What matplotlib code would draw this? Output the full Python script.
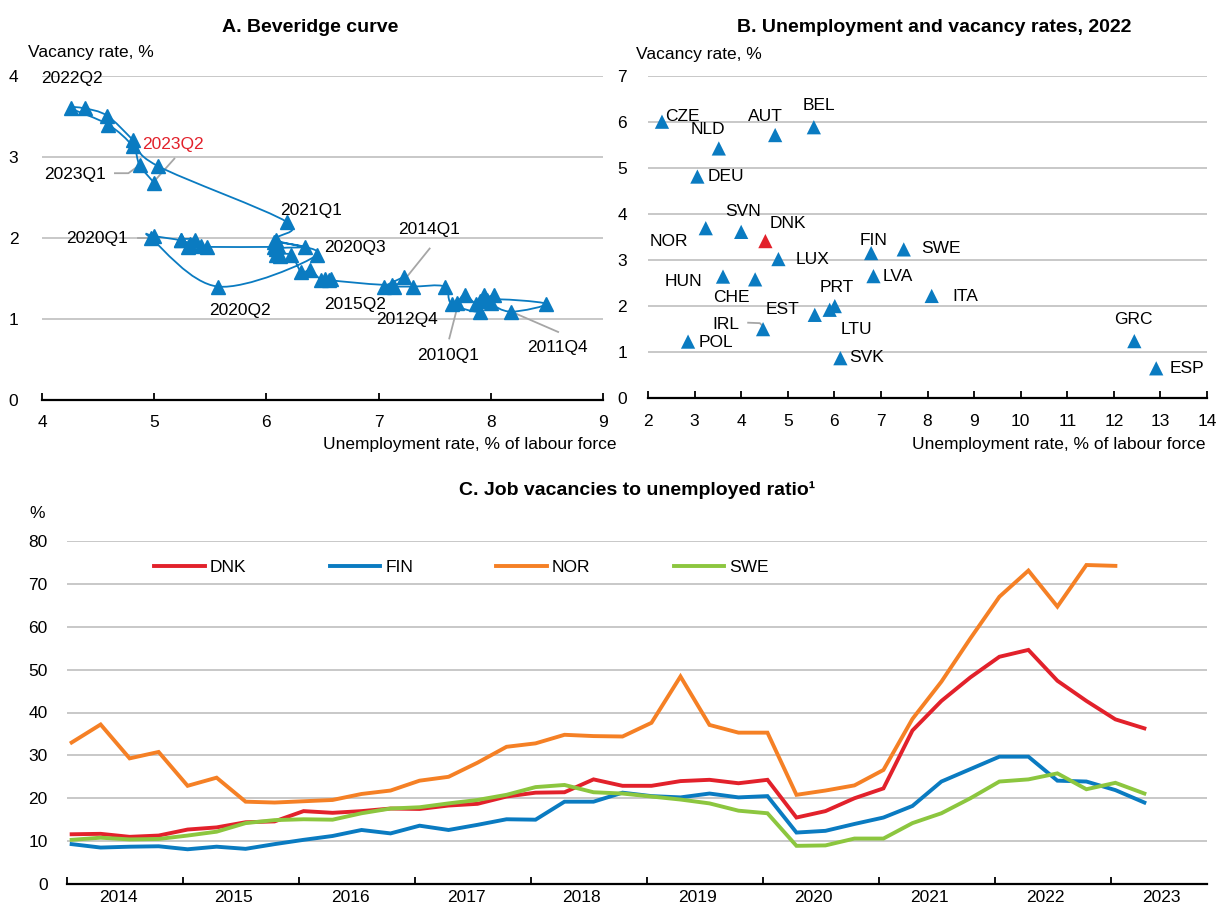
import numpy as np
import pandas as pd
import matplotlib
matplotlib.use("Agg")
import matplotlib.pyplot as plt
from matplotlib.path import Path
from matplotlib.patches import PathPatch

# ---- Panel A: Beveridge curve, Denmark, 2010Q1-2023Q2
bev_quarters = pd.period_range("2010Q1", "2023Q2", freq="Q").astype(str)
bev_unemp = [7.70, 7.77, 7.87, 7.94, 7.90, 8.03, 8.00, 8.18,
             8.49, 7.97, 7.90, 7.65, 7.59, 7.31, 7.14, 7.05,
             7.23, 7.12, 6.56, 6.58, 6.52, 6.49, 6.39, 6.31,
             6.22, 6.09, 6.12, 6.09, 6.34, 6.07, 6.10, 6.07,
             5.47, 5.42, 5.30, 5.36, 5.24, 5.32, 5.24, 5.00,
             4.97, 5.57, 6.45, 6.09, 6.18, 5.03, 4.81, 4.58,
             4.38, 4.26, 4.59, 4.81, 4.87, 5.00]
bev_vac = [1.20, 1.30, 1.19, 1.30, 1.22, 1.30, 1.20, 1.09,
           1.19, 1.24, 1.09, 1.19, 1.40, 1.40, 1.40, 1.40,
           1.52, 1.42, 1.48, 1.50, 1.50, 1.48, 1.60, 1.58,
           1.79, 1.79, 1.78, 1.87, 1.89, 1.95, 1.90, 1.89,
           1.89, 1.90, 1.89, 1.98, 1.98, 1.92, 1.97, 2.02,
           2.00, 1.40, 1.79, 1.98, 2.20, 2.89, 3.21, 3.51,
           3.60, 3.60, 3.40, 3.13, 2.90, 2.68]

# ---- Panel B: unemployment and vacancy rates, 2022
countries = ["CZE", "NLD", "AUT", "BEL", "DEU", "NOR", "SVN", "DNK", "LUX", "HUN",
             "CHE", "IRL", "POL", "EST", "PRT", "LTU", "SVK", "FIN", "LVA", "SWE",
             "ITA", "GRC", "ESP"]
unemp_2022 = [2.30, 3.52, 4.73, 5.56, 3.06, 3.24, 4.00, 4.52, 4.80, 3.61,
              4.30, 4.47, 2.86, 5.58, 6.01, 5.90, 6.13, 6.79, 6.84, 7.49,
              8.09, 12.44, 12.91]
vac_2022 = [6.00, 5.42, 5.71, 5.88, 4.81, 3.69, 3.61, 3.41, 3.02, 2.64,
            2.58, 1.50, 1.23, 1.81, 2.00, 1.92, 0.87, 3.15, 2.65, 3.23,
            2.22, 1.24, 0.65]

# ---- Panel C: job vacancies to unemployed ratio, %
ratio_quarters = pd.period_range("2014Q1", "2023Q2", freq="Q")
dnk = [11.6, 11.7, 11.0, 11.3, 12.7, 13.2, 14.4, 14.6, 17.0, 16.6, 17.0, 17.6,
       17.5, 18.3, 18.7, 20.4, 21.3, 21.4, 24.4, 22.9, 22.9, 24.0, 24.3, 23.5,
       24.3, 15.5, 17.0, 20.0, 22.3, 35.8, 42.7, 48.2, 53.0, 54.6, 47.4, 42.7,
       38.4, 36.3]
fin = [9.3, 8.5, 8.7, 8.8, 8.1, 8.7, 8.2, 9.3, 10.3, 11.2, 12.6, 11.8,
       13.6, 12.6, 13.8, 15.1, 15.0, 19.2, 19.2, 21.3, 20.5, 20.2, 21.1, 20.2,
       20.5, 12.0, 12.4, 14.0, 15.5, 18.2, 23.9, 26.8, 29.7, 29.7, 24.1, 23.9,
       21.9, 19.0]
nor = [33.0, 37.2, 29.3, 30.8, 22.9, 24.8, 19.2, 19.0, 19.3, 19.6, 21.0, 21.8,
       24.1, 25.0, 28.3, 32.0, 32.8, 34.8, 34.5, 34.4, 37.6, 48.4, 37.1, 35.3,
       35.3, 20.8, 21.8, 23.0, 26.6, 38.5, 47.2, 57.3, 67.0, 73.1, 64.7, 74.4,
       74.2]
swe = [10.3, 10.8, 10.4, 10.5, 11.3, 12.2, 14.2, 14.9, 15.1, 15.0, 16.5, 17.6,
       17.9, 18.8, 19.6, 20.8, 22.6, 23.1, 21.4, 21.1, 20.4, 19.7, 18.8, 17.1,
       16.5, 8.9, 9.0, 10.6, 10.6, 14.2, 16.5, 20.0, 23.9, 24.4, 25.8, 22.1,
       23.6, 21.1]
years = list(range(2014, 2024))

BLUE = "#0a7bc1"
RED = "#e2212b"
ORANGE = "#f58025"
GREEN = "#8cc63f"
GRID = "#c8c8c8"
LEADER = "#a6a6a6"

plt.rcParams["font.family"] = ["Liberation Sans Narrow", "Liberation Sans", "DejaVu Sans"]
plt.rcParams["font.size"] = 12

W, H = 1218, 909
fig = plt.figure(figsize=(W / 100, H / 100), dpi=100)


def box(x0, y0, x1, y1):
    return [x0 / W, 1 - y1 / H, (x1 - x0) / W, (y1 - y0) / H]


def style(ax, ypad, xpad):
    for s in ["top", "right", "left"]:
        ax.spines[s].set_visible(False)
    ax.spines["bottom"].set_linewidth(1.6)
    ax.spines["bottom"].set_zorder(5)
    ax.grid(axis="y", color=GRID, lw=1.4)
    ax.set_axisbelow(True)
    ax.tick_params(axis="y", length=0, pad=ypad, labelsize=12.5)
    ax.tick_params(axis="x", direction="in", length=5, width=1.3, pad=xpad, labelsize=12.5)


def smooth_path(xs, ys):
    # Excel-like smoothed line as cubic bezier segments
    pts = np.column_stack([xs, ys])
    n = len(pts)
    verts = [pts[0]]
    codes = [Path.MOVETO]
    for i in range(n - 1):
        p0 = pts[max(i - 1, 0)]
        p1 = pts[i]
        p2 = pts[i + 1]
        p3 = pts[min(i + 2, n - 1)]
        verts += [p1 + (p2 - p0) / 6, p2 - (p3 - p1) / 6, p2]
        codes += [Path.CURVE4] * 3
    return Path(verts, codes)


# ---------------- Panel A
axA = fig.add_axes(box(42, 76, 603, 400))
style(axA, 17, 11)
axA.add_patch(PathPatch(smooth_path(bev_unemp, bev_vac), fc="none", ec=BLUE, lw=1.3, zorder=3))
axA.plot(bev_unemp, bev_vac, ls="none", marker="^", ms=10, color=BLUE, zorder=4)
axA.set_xlim(4, 9)
axA.set_ylim(0, 4)
axA.set_xticks(range(4, 10))
axA.set_yticks(range(0, 5))

lab_pos = {"2022Q2": (4.27, 3.97), "2023Q2": (5.17, 3.16), "2023Q1": (4.29, 2.78),
           "2020Q1": (4.49, 2.00), "2021Q1": (6.40, 2.34), "2020Q3": (6.79, 1.88),
           "2014Q1": (7.45, 2.10), "2015Q2": (6.79, 1.18), "2012Q4": (7.25, 1.00),
           "2010Q1": (7.62, 0.55), "2011Q4": (8.59, 0.65), "2020Q2": (5.76, 1.11)}
for q, (tx, ty) in lab_pos.items():
    axA.text(tx, ty, q, ha="center", va="center", fontsize=12.5,
             color=RED if q == "2023Q2" else "black", zorder=6)

leaders = [([4.65, 4.77, 4.86], [2.80, 2.80, 2.89]),
           ([5.18, 5.00], [2.98, 2.70]),
           ([4.86, 4.97], [2.00, 2.00]),
           ([7.455, 7.24], [1.87, 1.50]),
           ([7.63, 7.71], [0.76, 1.19]),
           ([8.60, 8.20], [0.84, 1.08])]
for lx, ly in leaders:
    axA.plot(lx, ly, color=LEADER, lw=1.3, zorder=2)

# ---------------- Panel B
axB = fig.add_axes(box(648, 75.6, 1207, 398.3))
style(axB, 15, 11)
cols = [RED if c == "DNK" else BLUE for c in countries]
axB.scatter(unemp_2022, vac_2022, marker="^", s=105, c=cols, lw=0, zorder=4)
axB.set_xlim(2, 14)
axB.set_ylim(0, 7)
axB.set_xticks(range(2, 15))
axB.set_yticks(range(0, 8))

txt_pos = {"CZE": (2.73, 6.11), "NLD": (3.29, 5.82), "AUT": (4.52, 6.11), "BEL": (5.66, 6.35),
           "DEU": (3.68, 4.81), "NOR": (2.44, 3.40), "SVN": (4.04, 4.05), "DNK": (5.01, 3.80),
           "LUX": (5.53, 3.02), "HUN": (2.77, 2.53), "CHE": (3.80, 2.19), "IRL": (3.68, 1.61),
           "POL": (3.46, 1.21), "EST": (4.89, 1.93), "PRT": (6.06, 2.41), "LTU": (6.47, 1.50),
           "SVK": (6.70, 0.89), "FIN": (6.84, 3.42), "LVA": (7.36, 2.64), "SWE": (8.28, 3.25),
           "ITA": (8.81, 2.20), "GRC": (12.43, 1.71), "ESP": (13.58, 0.65)}
for c in countries:
    tx, ty = txt_pos[c]
    axB.text(tx, ty, c, ha="center", va="center", fontsize=12.5, zorder=6)
axB.plot([4.15, 4.40, 4.49], [1.64, 1.63, 1.54], color=LEADER, lw=1.3, zorder=2)

for ax, x_right in [(axA, 616), (axB, 1205)]:
    fig.text(x_right / W, 1 - 445 / H, "Unemployment rate, % of labour force",
             ha="right", va="center", fontsize=12.5)
fig.text(28 / W, 1 - 52 / H, "Vacancy rate, %", ha="left", va="center", fontsize=12.5)
fig.text(636 / W, 1 - 54 / H, "Vacancy rate, %", ha="left", va="center", fontsize=12.5)
fig.text(310 / W, 1 - 27 / H, "A. Beveridge curve", ha="center", va="center",
         fontsize=14, fontweight="bold")
fig.text(934 / W, 1 - 27 / H, "B. Unemployment and vacancy rates, 2022", ha="center",
         va="center", fontsize=14, fontweight="bold")

# ---------------- Panel C
axC = fig.add_axes(box(67, 541, 1207, 884))
style(axC, 14, 6)
t = ratio_quarters.year + (ratio_quarters.quarter - 1) / 4 + 0.04
axC.plot(t, dnk, color=RED, lw=2.8, label="DNK", solid_joinstyle="miter")
axC.plot(t, fin, color=BLUE, lw=2.8, label="FIN", solid_joinstyle="miter")
axC.plot(t[:len(nor)], nor, color=ORANGE, lw=2.8, label="NOR", solid_joinstyle="miter")
axC.plot(t, swe, color=GREEN, lw=2.8, label="SWE", solid_joinstyle="miter")
axC.set_xlim(2014, 2023.83)
axC.set_ylim(0, 80)
axC.set_yticks(range(0, 90, 10))
axC.set_xticks(years)
axC.set_xticklabels([])
axC.set_xticks([y + 0.44 for y in years], minor=True)
axC.set_xticklabels([str(y) for y in years], minor=True)
axC.tick_params(axis="x", which="minor", length=0, pad=4, labelsize=12.5)
axC.legend(loc="center left", bbox_to_anchor=(0.069, 0.922), ncol=4, frameon=False,
           handlelength=2.9, handletextpad=0.3, columnspacing=4.8, borderpad=0,
           fontsize=12.5)
fig.text(37 / W, 1 - 513 / H, "%", ha="center", va="center", fontsize=12.5)
fig.text(637 / W, 1 - 490 / H, "C. Job vacancies to unemployed ratio\u00b9", ha="center",
         va="center", fontsize=14, fontweight="bold")

fig.savefig("out.png", dpi=100)
